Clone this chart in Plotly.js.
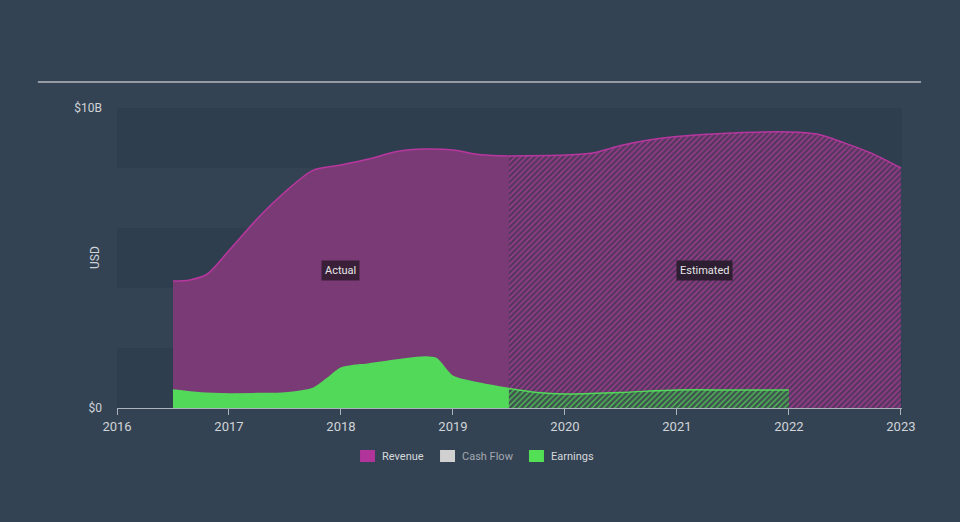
<!DOCTYPE html>
<html>
<head>
<meta charset="utf-8">
<script src="https://cdn.plot.ly/plotly-3.0.1.min.js"></script>
<style>
html,body{margin:0;padding:0;background:#344353;}
#chart{width:960px;height:522px;}
</style>
</head>
<body>
<div id="chart"></div>
<script>
// Revenue (USD billions)
const revActualX = [2016.5, 2016.65, 2016.8, 2017.0, 2017.25, 2017.5, 2017.75, 2018.0, 2018.25, 2018.5, 2018.75, 2019.0, 2019.25, 2019.5];
const revActualY = [4.23, 4.27, 4.45, 5.25, 6.3, 7.2, 7.92, 8.1, 8.3, 8.55, 8.63, 8.6, 8.44, 8.4];
const revEstX = [2019.5, 2020.0, 2020.25, 2020.5, 2020.75, 2021.0, 2021.5, 2022.0, 2022.25, 2022.5, 2022.75, 2023.0];
const revEstY = [8.4, 8.43, 8.5, 8.75, 8.93, 9.05, 9.17, 9.2, 9.13, 8.83, 8.47, 8.0];
// Earnings (USD billions)
const earnActualX = [2016.5, 2016.75, 2017.0, 2017.25, 2017.5, 2017.75, 2017.9, 2018.0, 2018.25, 2018.5, 2018.75, 2018.85, 2019.0, 2019.25, 2019.5];
const earnActualY = [0.6, 0.5, 0.47, 0.48, 0.5, 0.65, 1.05, 1.33, 1.47, 1.6, 1.7, 1.65, 1.05, 0.82, 0.65];
const earnEstX = [2019.5, 2019.75, 2020.0, 2020.5, 2021.0, 2021.5, 2022.0];
const earnEstY = [0.65, 0.52, 0.47, 0.52, 0.6, 0.6, 0.6];
const yearTicks = [2016, 2017, 2018, 2019, 2020, 2021, 2022, 2023];
const yTickVals = [0, 10];
const yTickText = ['$0', '$10B'];
const legendNames = ['Revenue', 'Cash Flow', 'Earnings'];
const legendColors = ['#b0349a', '#d0d0d0', '#53e055'];
const legendTextColors = ['#d4d8dc', '#a3a9b0', '#d4d8dc'];

const magenta = '#b8379f';
const green = '#53d95a';

const traces = [
  {x: revActualX, y: revActualY, type: 'scatter', mode: 'lines', fill: 'tozeroy',
   line: {color: magenta, width: 1.5, shape: 'spline', smoothing: 0.8},
   fillcolor: '#7a3a75', showlegend: false, hoverinfo: 'skip'},
  {x: revEstX, y: revEstY, type: 'scatter', mode: 'lines', fill: 'tozeroy',
   line: {color: magenta, width: 1.5, shape: 'spline', smoothing: 0.8},
   fillcolor: '#5a3560',
   fillpattern: {shape: '/', fgcolor: '#a03c90', bgcolor: '#56375f', size: 4, solidity: 0.35},
   showlegend: false, hoverinfo: 'skip'},
  {x: earnActualX, y: earnActualY, type: 'scatter', mode: 'lines', fill: 'tozeroy',
   line: {color: green, width: 1.5, shape: 'spline', smoothing: 0.8},
   fillcolor: green, showlegend: false, hoverinfo: 'skip'},
  {x: earnEstX, y: earnEstY, type: 'scatter', mode: 'lines', fill: 'tozeroy',
   line: {color: green, width: 1.5, shape: 'spline', smoothing: 0.8},
   fillcolor: '#3f5a48',
   fillpattern: {shape: '/', fgcolor: '#4fbf55', bgcolor: '#3f5250', size: 4, solidity: 0.35},
   showlegend: false, hoverinfo: 'skip'}
];

const bandColor = 'rgba(30,42,56,0.18)';
const shapes = [
  {type: 'rect', xref: 'paper', yref: 'y', x0: 0, x1: 1, y0: 0, y1: 2, fillcolor: bandColor, line: {width: 0}, layer: 'below'},
  {type: 'rect', xref: 'paper', yref: 'y', x0: 0, x1: 1, y0: 4, y1: 6, fillcolor: bandColor, line: {width: 0}, layer: 'below'},
  {type: 'rect', xref: 'paper', yref: 'y', x0: 0, x1: 1, y0: 8, y1: 10, fillcolor: bandColor, line: {width: 0}, layer: 'below'},
  {type: 'line', xref: 'paper', yref: 'paper', x0: -0.1008, x1: 1.0242, y0: 1.087, y1: 1.087, line: {color: '#b4b9bf', width: 1.5}}
];

const annotations = [
  {x: 2018.0, y: 4.57, xref: 'x', yref: 'y', text: 'Actual', showarrow: false,
   font: {family: 'Roboto, Arial, sans-serif', size: 11, color: '#e6e6e6'},
   bgcolor: '#3a1f38', borderpad: 3},
  {x: 2021.25, y: 4.57, xref: 'x', yref: 'y', text: 'Estimated', showarrow: false,
   font: {family: 'Roboto, Arial, sans-serif', size: 11, color: '#e6e6e6'},
   bgcolor: '#2e1e31', borderpad: 3},
  {x: -0.028, y: 0.5, xref: 'paper', yref: 'paper', xanchor: 'center', yanchor: 'middle',
   text: 'USD', showarrow: false,
   textangle: -90, font: {family: 'Roboto, Arial, sans-serif', size: 12, color: '#d0d4d8'}}
];

// Legend drawn as swatches + labels
const legSquareX = [0.3096, 0.4115, 0.5248];
legendNames.forEach((n, i) => {
  shapes.push({type: 'rect', xref: 'paper', yref: 'paper', x0: legSquareX[i], x1: legSquareX[i] + 0.0191,
    y0: -0.18, y1: -0.14, fillcolor: legendColors[i], line: {width: 0}});
  annotations.push({x: legSquareX[i] + 0.0255, y: -0.16, xref: 'paper', yref: 'paper',
    xanchor: 'left', yanchor: 'middle', text: n, showarrow: false,
    font: {family: 'Roboto, Arial, sans-serif', size: 11, color: legendTextColors[i]}});
});

const layout = {
  width: 960, height: 522,
  paper_bgcolor: '#344353',
  plot_bgcolor: 'rgba(0,0,0,0)',
  margin: {l: 117, r: 58, t: 108, b: 114},
  font: {family: 'Roboto, Arial, sans-serif', color: '#d0d4d8', size: 12},
  showlegend: false,
  xaxis: {range: [2016, 2023.01], tickvals: yearTicks, ticktext: yearTicks.map(String),
          showgrid: false, zeroline: false, showline: true, linecolor: '#aab2bc', linewidth: 1,
          ticks: 'outside', ticklen: 6, tickcolor: '#aab2bc', tickfont: {size: 13, color: '#d0d4d8'},
          fixedrange: true},
  yaxis: {range: [0, 10], tickvals: yTickVals, ticktext: yTickText, showgrid: false,
          zeroline: false, showline: false, ticks: '', ticklabelstandoff: 14,
          tickfont: {size: 12, color: '#d0d4d8'},
          fixedrange: true},
  shapes: shapes,
  annotations: annotations
};

Plotly.newPlot('chart', traces, layout, {displayModeBar: false, staticPlot: true});
</script>
</body>
</html>
